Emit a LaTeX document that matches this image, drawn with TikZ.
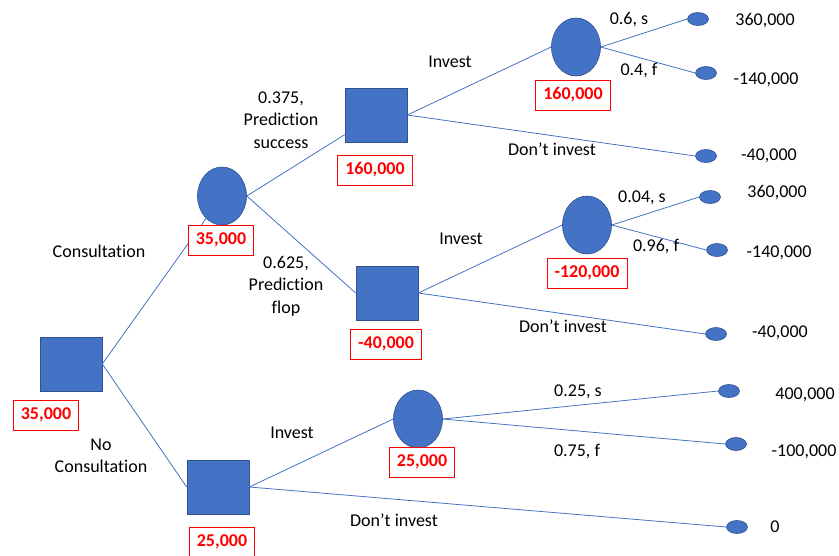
\documentclass[tikz,border=0pt]{standalone}
\usepackage{fontspec}
\setmainfont{Carlito}[Ligatures=NoCommon]
\usetikzlibrary{shapes.geometric}
\definecolor{nodeblue}{HTML}{4472C4}
\definecolor{edgeblue}{HTML}{2F528F}
\definecolor{valred}{HTML}{FF0000}
\begin{document}
\begin{tikzpicture}[x=1pt,y=-1pt,
  every node/.style={font=\fontsize{18}{22.5}\selectfont},
  decision/.style={rectangle,fill=nodeblue,draw=edgeblue,line width=0.6pt,minimum width=62pt,minimum height=54pt,inner sep=0pt},
  chance/.style={ellipse,fill=nodeblue,draw=edgeblue,line width=0.6pt,minimum width=49pt,minimum height=58pt,inner sep=0pt},
  leaf/.style={ellipse,fill=nodeblue,draw=edgeblue,line width=0.6pt,minimum width=21pt,minimum height=13pt,inner sep=0pt},
  value/.style={rectangle,draw=valred,line width=0.8pt,fill=white,text=valred,font=\fontsize{18}{22.5}\selectfont\bfseries,inner xsep=7.5pt,inner ysep=0pt,minimum height=30pt},
  lbl/.style={align=center,inner sep=0pt},
  branch/.style={draw=nodeblue,line width=0.8pt}]
\useasboundingbox (0,0) rectangle (839,555);

% decision and chance nodes
\node[decision] (root) at (71,364) {};
\node[chance] (c1) at (222,196) {};
\node[decision] (d1) at (376,115) {};
\node[chance] (c2) at (576,47) {};
\node[decision] (d2) at (387,293) {};
\node[chance] (c3) at (587,225) {};
\node[decision] (d3) at (218,487) {};
\node[chance] (c4) at (418,419) {};

% leaves
\node[leaf] (l1) at (698,19) {};
\node[leaf] (l2) at (706,73) {};
\node[leaf] (l3) at (706,156) {};
\node[leaf] (l4) at (710,197) {};
\node[leaf] (l5) at (717,250) {};
\node[leaf] (l6) at (716,334) {};
\node[leaf] (l7) at (729,391) {};
\node[leaf] (l8) at (736,444) {};
\node[leaf] (l9) at (737,527) {};

% connectors
\draw[branch] (root.east) -- (c1);
\draw[branch] (root.east) -- (d3.west);
\draw[branch] (c1.east) -- (d1);
\draw[branch] (c1.east) -- (d2.west);
\draw[branch] (d1.east) -- (c2.west);
\draw[branch] (d1.east) -- (l3.west);
\draw[branch] (c2.east) -- (l1.west);
\draw[branch] (c2.east) -- (l2.west);
\draw[branch] (d2.east) -- (c3.west);
\draw[branch] (d2.east) -- (l6.west);
\draw[branch] (c3.east) -- (l4.west);
\draw[branch] (c3.east) -- (l5.west);
\draw[branch] (d3.east) -- (c4.west);
\draw[branch] (d3.east) -- (l9.west);
\draw[branch] (c4.east) -- (l7.west);
\draw[branch] (c4.east) -- (l8.west);

% values
\node[value] (v0) at (46,415) {35,000};
\node[value] (v1) at (221,240) {35,000};
\node[value] (v2) at (375,170) {160,000};
\node[value] (v3) at (573,95) {160,000};
\node[value] (v4) at (386,344) {-40,000};
\node[value] (v5) at (587,273) {-120,000};
\node[value] (v6) at (222,542) {25,000};
\node[value] (v7) at (422,462) {25,000};

% branch labels
\node[lbl] (t1) at (99,251) {Consultation};
\node[lbl] (t2) at (101,456) {No\\Consultation};
\node[lbl] (t3) at (281,120) {0.375,\\Prediction\\success};
\node[lbl] (t4) at (286,286) {0.625,\\Prediction\\flop};
\node[lbl] (t5) at (450,62) {Invest};
\node[lbl] (t6) at (552,149) {Don’t invest};
\node[lbl] (t7) at (629,20) {0.6, s};
\node[lbl] (t8) at (639,70) {0.4, f};
\node[lbl] (t9) at (461,239) {Invest};
\node[lbl] (t10) at (563,326) {Don’t invest};
\node[lbl] (t11) at (642,198) {0.04, s};
\node[lbl] (t12) at (656,246) {0.96, f};
\node[lbl] (t13) at (292,433) {Invest};
\node[lbl] (t14) at (394,520) {Don’t invest};
\node[lbl] (t15) at (578,392) {0.25, s};
\node[lbl] (t16) at (577,451) {0.75, f};

% payoffs
\node[lbl] (p1) at (765,21) {360,000};
\node[lbl] (p2) at (766,80) {-140,000};
\node[lbl] (p3) at (769,156) {-40,000};
\node[lbl] (p4) at (777,193) {360,000};
\node[lbl] (p5) at (779,253) {-140,000};
\node[lbl] (p6) at (780,333) {-40,000};
\node[lbl] (p7) at (805,395) {400,000};
\node[lbl] (p8) at (804,452) {-100,000};
\node[lbl] (p9) at (775,527) {0};
\end{tikzpicture}
\end{document}
